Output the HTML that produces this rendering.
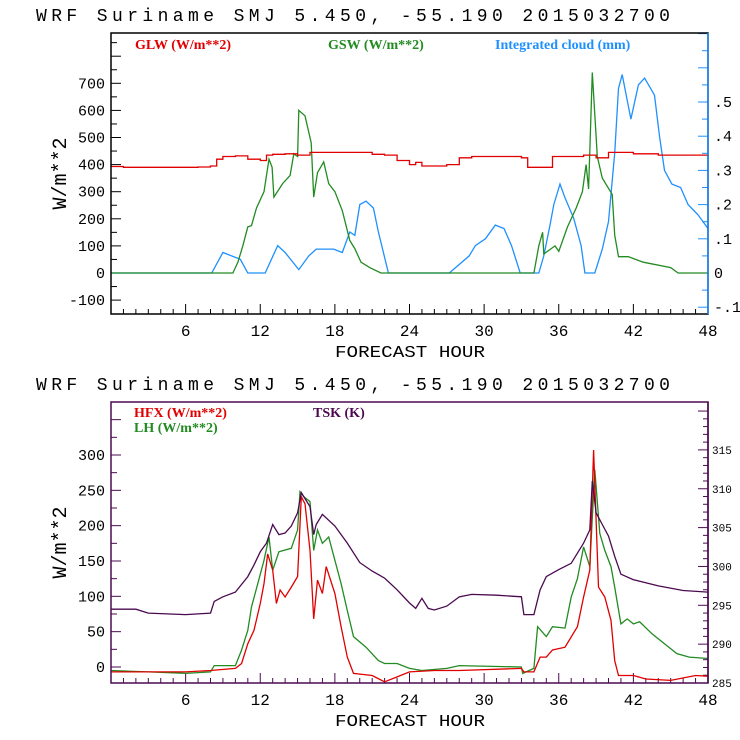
<!DOCTYPE html>
<html><head><meta charset="utf-8"><style>
html,body{margin:0;padding:0;background:#fff;}
svg{display:block;font-family:"Liberation Mono",monospace;}
</style></head><body>
<svg id="svg" width="740" height="740" viewBox="0 0 740 740" xmlns="http://www.w3.org/2000/svg"></svg>
<script>
// ---- data (top chart) ----
const glwH=[0,1,7,8,8.5,9,10,11,12,12.5,13,14,15,16,17,20,21,22,23,24,24.5,25,26,27,28,29,33,33.5,35,35.5,38,39,40,42,44,48];
const glwV=[393,390,391,395,420,430,432,420,415,435,438,440,435,445,445,445,438,435,415,400,408,395,395,400,425,430,425,390,390,430,435,425,445,440,435,430];
const gswH=[0,9.8,10.2,10.6,11,11.3,11.7,12.3,12.7,12.95,13.1,13.8,14.4,14.7,15.0,15.1,15.6,16.1,16.3,16.6,17.1,17.5,18,18.6,19.2,19.6,20.1,20.8,21.7,34.0,34.4,34.7,34.8,35.7,36,36.7,37.4,37.9,38.2,38.4,38.7,39.1,39.5,40.3,40.5,40.8,41.6,42.8,45,45.6,48];
const gswV=[0,0,40,100,170,175,240,300,420,390,280,330,360,440,430,600,580,480,280,370,410,330,300,230,120,90,40,20,0,0,100,150,70,100,80,170,240,300,400,310,740,430,350,290,140,60,60,40,20,0,0];
const cldH=[0,8.1,9.0,10.4,11,12.4,13.4,14,15.1,15.9,16.5,17.9,18.6,19.2,19.6,20,20.5,21.1,21.5,21.9,22.3,27.2,28.8,29.3,30.1,30.9,31.6,32.2,32.9,34.4,34.8,35.3,35.6,36.1,36.5,37.2,37.8,38.1,38.9,39.5,40.0,40.5,40.8,41.1,41.8,42.4,42.9,43.7,44.1,44.5,45.1,45.8,46.4,47.2,48];
const cldV=[0,0,0.06,0.04,0,0,0.08,0.06,0.01,0.05,0.07,0.07,0.06,0.12,0.11,0.2,0.21,0.19,0.12,0.06,0,0,0.05,0.08,0.1,0.14,0.13,0.08,0,0,0.05,0.14,0.2,0.26,0.22,0.16,0.08,0,0,0.07,0.15,0.35,0.54,0.58,0.45,0.55,0.57,0.52,0.4,0.3,0.26,0.25,0.2,0.17,0.13];
// ---- data (bottom chart) ----
const tskH=[0,2,3,6,8,8.3,9,10,11,11.5,12,12.5,13,13.5,14,14.5,15,15.3,16,16.3,16.5,17,18,19,20,21,22,23,24,24.5,25,25.5,26,27,28,29,31,33,33.2,34,34.5,35,36,37,38,38.5,38.7,39,39.5,40,40.5,41,42,44,46,48];
const tskV=[294.5,294.5,294,293.8,294,295.5,296.1,296.7,298.7,300.2,301.9,303,305.4,304.1,304.3,305.2,306.9,309.5,307.7,304.1,305.4,306.7,305.2,303,300.5,299.4,298.5,297,295.3,294.6,295.9,294.6,294.4,294.9,296.1,296.4,296.3,296.1,293.8,293.8,297,298.7,299.6,300.4,303,304.7,311,306.9,305.4,303.9,301.3,299,298.3,297.5,296.9,296.7];
const hfxH=[0,6,8,10,10.5,11,11.5,12,12.3,12.6,13,13.3,13.6,14,14.5,15,15.3,15.6,16,16.3,16.6,17,17.3,18,18.5,19,19.5,21,22,23,24,26,28,33,33.2,34,34.5,35,35.5,36.5,37.5,38,38.5,38.8,39.2,39.7,40.2,40.5,40.8,42,43,45,47,48];
const hfxV=[-7,-7,-5,-2,5,33,52,90,118,160,137,90,109,99,113,128,241,231,165,68,123,104,142,104,57,14,-9,-12,-21,-14,-7,-5,-5,-2,-7,-7,14,14,24,28,57,99,137,307,113,99,66,9,-12,-12,-17,-19,-12,-13];
const lhH=[0,3,6,8,8.3,10,10.5,11,11.3,11.8,12.3,12.7,13,13.5,14.5,15,15.2,15.5,16,16.3,16.6,17,17.5,18,18.5,19,19.5,20.5,21.5,22,23,24,25,27,28,33,33.1,34,34.3,35,35.5,36.5,37,37.5,38,38.5,38.9,39.3,39.7,40.2,40.5,41,41.5,42,42.5,43.5,44.5,45.5,46.5,48];
const lhV=[-5,-7,-9,-7,2,2,24,52,85,118,151,184,137,163,168,194,248,241,234,165,194,175,184,151,118,80,43,28,9,5,5,-2,-5,-2,2,0,-9,-2,57,43,57,55,99,125,170,142,279,189,165,142,113,61,68,61,64,47,33,19,14,12];
const xTicks=[6,12,18,24,30,36,42,48];
const topLeftTicks=[-100,0,100,200,300,400,500,600,700];
const topRightTicks=[-0.1,0,0.1,0.2,0.3,0.4,0.5];
const botLeftTicks=[0,50,100,150,200,250,300];
const botRightTicks=[285,290,295,300,305,310,315];

const NS="http://www.w3.org/2000/svg";
const svg=document.getElementById('svg');
function el(tag,attrs,parent,text){const e=document.createElementNS(NS,tag);for(const k in attrs)e.setAttribute(k,attrs[k]);if(text!==undefined)e.textContent=text;(parent||svg).appendChild(e);return e;}
const X0=111,X1=708;
const xs=h=>X0+(X1-X0)*h/48;
const tY=v=>273-v*0.271, tR=v=>273-v*342;
const bY=v=>667-v*0.7067, bR=v=>683-(v-285)*7.77;

function stepPath(H,V,sy){let d='';for(let i=0;i<H.length;i++){const x=xs(H[i]).toFixed(1),y=sy(V[i]).toFixed(1);if(i===0)d='M'+x+' '+y;else{d+=' H'+x+' V'+y;}}return d;}
function linePath(H,V,sy){return H.map((h,i)=>(i?'L':'M')+xs(h).toFixed(1)+' '+sy(V[i]).toFixed(1)).join(' ');}

function panel(top,bot,frameCol,name){
  const g=el('g',{});
  
  
  const t=el('text',{x:36,y:top-12,'font-size':18,fill:'#000','xml:space':'preserve',textLength:634,lengthAdjust:'spacing'},g,'WRF  Suriname SMJ   5.450, -55.190  2015032700');
  
  for(let h=1;h<48;h++){const big=h%6===0;el('line',{x1:xs(h),x2:xs(h),y1:bot,y2:bot-(big?10:5),stroke:frameCol,'stroke-width':1},g);}
  xTicks.forEach(h=>{const tx=el('text',{x:xs(h),y:bot+22,'font-size':16,'text-anchor':'middle',fill:'#000'},g,String(h));});
  const xl=el('text',{x:410,y:bot+43,'font-size':17,'text-anchor':'middle',fill:'#000',textLength:150,lengthAdjust:'spacingAndGlyphs'},g,'FORECAST HOUR');
  
  const yl=el('text',{x:0,y:0,'font-size':20,'text-anchor':'middle',fill:'#000',transform:`translate(66,${(top+bot)/2}) rotate(-90)`},g,'W/m**2');
  
  return g;
}
function frame(g,top,bot,frameCol,rightCol){
  el('rect',{x:X0,y:top,width:X1-X0,height:bot-top,fill:'none',stroke:frameCol,'stroke-width':1.5},g);
  el('line',{x1:X1,x2:X1,y1:top,y2:bot,stroke:rightCol,'stroke-width':1.5},g);
}

// ===== TOP =====
const gt=panel(33,314,'#000','top-panel-radiation');
for(let v=-100;v<=850;v+=50){const y=tY(v);if(y<33||y>314)continue;el('line',{x1:X0,x2:X0+(v%100===0?10:6),y1:y,y2:y,stroke:'#000'},gt);}
topLeftTicks.forEach(v=>{const t=el('text',{x:105,y:tY(v)+5,'font-size':15,'text-anchor':'end',fill:'#000'},gt,String(v));});
for(let v=-0.1;v<=0.71;v+=0.05){const y=tR(v);if(y<33||y>314)continue;el('line',{x1:X1,x2:X1-(Math.round(v*100)%10===0?10:6),y1:y,y2:y,stroke:'#1e90ff'},gt);}
topRightTicks.forEach(v=>{const s=v===0?'0':(v<0?'-.'+Math.round(-v*10):'.'+Math.round(v*10));const t=el('text',{x:714,y:tR(v)+5,'font-size':15,fill:'#000'},gt,s);});
let p;
p=el('path',{d:linePath(cldH,cldV,tR),fill:'none',stroke:'#1e90ff','stroke-width':1.3},gt);
p=el('path',{d:linePath(gswH,gswV,tY),fill:'none',stroke:'#228b22','stroke-width':1.3},gt);
p=el('path',{d:stepPath(glwH,glwV,tY),fill:'none',stroke:'#e00000','stroke-width':1.3},gt);
frame(gt,33,314,'#000','#1e90ff');
const lg=[['GLW (W/m**2)',135,'#e00000','legend-glw'],['GSW (W/m**2)',328,'#228b22','legend-gsw'],['Integrated cloud (mm)',495,'#1e90ff','legend-cloud']];
lg.forEach(a=>{const t=el('text',{x:a[1],y:49,'font-size':14,'font-weight':'bold',fill:a[2],'font-family':'"Liberation Serif",serif','xml:space':'preserve'},gt,a[0]);});

// ===== BOTTOM =====
const PC='#4b0a50';
const gb=panel(402,683,PC,'bottom-panel-fluxes');
for(let v=-25;v<=350;v+=25){const y=bY(v);if(y<402||y>683)continue;el('line',{x1:X0,x2:X0+(v%50===0?10:6),y1:y,y2:y,stroke:PC},gb);}
botLeftTicks.forEach(v=>{const t=el('text',{x:105,y:bY(v)+5,'font-size':15,'text-anchor':'end',fill:'#000'},gb,String(v));});
for(let v=285;v<=320;v+=1){const y=bR(v);if(y<402||y>683)continue;el('line',{x1:X1,x2:X1-(v%5===0?10:5),y1:y,y2:y,stroke:PC},gb);}
botRightTicks.forEach(v=>{const t=el('text',{x:712,y:bR(v)+4,'font-size':11,fill:'#000'},gb,String(v));});
p=el('path',{d:linePath(lhH,lhV,bY),fill:'none',stroke:'#228b22','stroke-width':1.3},gb);
p=el('path',{d:linePath(hfxH,hfxV,bY),fill:'none',stroke:'#e00000','stroke-width':1.3},gb);
p=el('path',{d:linePath(tskH,tskV,bR),fill:'none',stroke:PC,'stroke-width':1.3},gb);
frame(gb,402,683,PC,PC);
const lg2=[['HFX (W/m**2)',134,417,'#e00000','legend-hfx'],['LH  (W/m**2)',134,432,'#228b22','legend-lh'],['TSK (K)',313,417,PC,'legend-tsk']];
lg2.forEach(a=>{const t=el('text',{x:a[1],y:a[2],'font-size':14,'font-weight':'bold',fill:a[3],'font-family':'"Liberation Serif",serif','xml:space':'preserve'},gb,a[0]);});
</script>
</body></html>
